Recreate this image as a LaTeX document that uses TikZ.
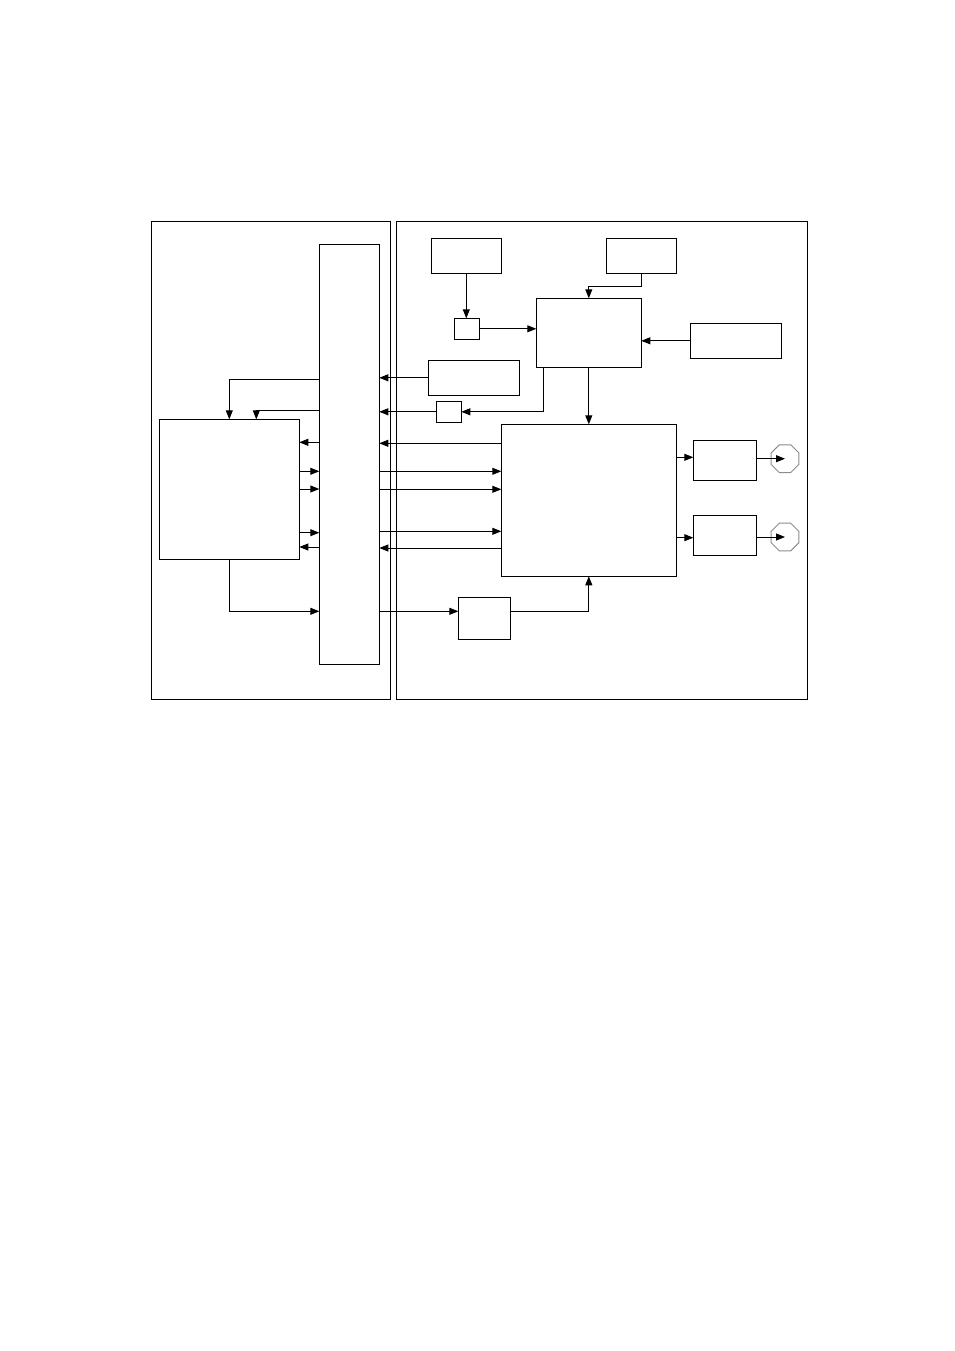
\documentclass[tikz,border=0pt]{standalone}
\usetikzlibrary{arrows.meta,shapes.geometric}
\begin{document}
\begin{tikzpicture}[x=1pt,y=-1pt,
  box/.style={draw,line width=0.9pt,inner sep=0pt,outer sep=0pt,anchor=north west},
  arr/.style={line width=0.9pt,-{Triangle[length=9pt,width=7pt]}},
  ln/.style={line width=0.9pt},
  oct/.style={draw=black!45,line width=0.9pt,regular polygon,regular polygon sides=8,minimum size=30pt,inner sep=0pt}]
\useasboundingbox (0,0) rectangle (954,1351);
% frames
\node[box,minimum width=239,minimum height=477.7] (LF) at (151.3,221.3) {};
\node[box,minimum width=411,minimum height=477.7] (RF) at (396.3,221.3) {};
% left side
\node[box,minimum width=60,minimum height=420] (bus) at (319.3,244.3) {};
\node[box,minimum width=140,minimum height=140] (L) at (159.3,419.3) {};
% right side boxes
\node[box,minimum width=70,minimum height=35] (A) at (431.3,238.3) {};
\node[box,minimum width=70,minimum height=35] (B) at (606.3,238.3) {};
\node[box,minimum width=25,minimum height=21] (s1) at (454.3,318.3) {};
\node[box,minimum width=105,minimum height=69] (C) at (536.3,298.3) {};
\node[box,minimum width=91,minimum height=35] (D) at (690.3,323.3) {};
\node[box,minimum width=91,minimum height=35] (E) at (428.3,360.3) {};
\node[box,minimum width=25,minimum height=21] (s2) at (436.3,401.3) {};
\node[box,minimum width=175,minimum height=152] (F) at (501.3,424.3) {};
\node[box,minimum width=52,minimum height=42] (G) at (458.3,597.3) {};
\node[box,minimum width=63,minimum height=40] (H1) at (693.3,440.3) {};
\node[box,minimum width=63,minimum height=40] (H2) at (693.3,515.3) {};
\node[oct] (O1) at (785,458.7) {};
\node[oct] (O2) at (785,537) {};
% top right connectors
\draw[arr] (A.south) -- (A.south |- s1.north);
\draw[arr] (s1.east) -- (s1.east -| C.west);
\draw[arr] (B.south) |- ([yshift=12pt]C.north) -- (C.north);
\draw[arr] (D.west) -- (D.west -| C.east);
\draw[arr] (C.south) -- (F.north);
\draw[arr] (E.west) -- (E.west -| bus.east);
\draw[arr] ([xshift=7.4pt]C.south west) |- (s2.east);
\draw[arr] (s2.west) -- (s2.west -| bus.east);
% bus <-> F
\draw[arr] (F.west |- 0,443.3) -- (bus.east |- 0,443.3);
\draw[arr] (bus.east |- 0,471.3) -- (F.west |- 0,471.3);
\draw[arr] (bus.east |- 0,489.3) -- (F.west |- 0,489.3);
\draw[arr] (bus.east |- 0,531.3) -- (F.west |- 0,531.3);
\draw[arr] (F.west |- 0,548) -- (bus.east |- 0,548);
% bus -> G -> F
\draw[arr] (bus.east |- 0,611.3) -- (G.west |- 0,611.3);
\draw[arr] (G.east |- 0,611.3) -| (F.south);
% F -> H -> O
\draw[arr] (F.east |- 0,457.3) -- (H1.west |- 0,457.3);
\draw[arr] (F.east |- 0,537.7) -- (H2.west |- 0,537.7);
\draw[arr] (H1.east |- O1.center) -- (O1.center);
\draw[arr] (H2.east |- O2.center) -- (O2.center);
% left side connectors
\draw[arr] (bus.west |- 0,379.3) -| (L.north);
\draw[arr] (bus.west |- 0,410.3) -| ([xshift=97pt]L.north west);
\draw[arr] (bus.west |- 0,442.3) -- (L.east |- 0,442.3);
\draw[arr] (L.east |- 0,471.3) -- (bus.west |- 0,471.3);
\draw[arr] (L.east |- 0,489) -- (bus.west |- 0,489);
\draw[arr] (L.east |- 0,532.7) -- (bus.west |- 0,532.7);
\draw[arr] (bus.west |- 0,547) -- (L.east |- 0,547);
\draw[arr] (L.south) |- (bus.west |- 0,611.3);
\end{tikzpicture}
\end{document}
